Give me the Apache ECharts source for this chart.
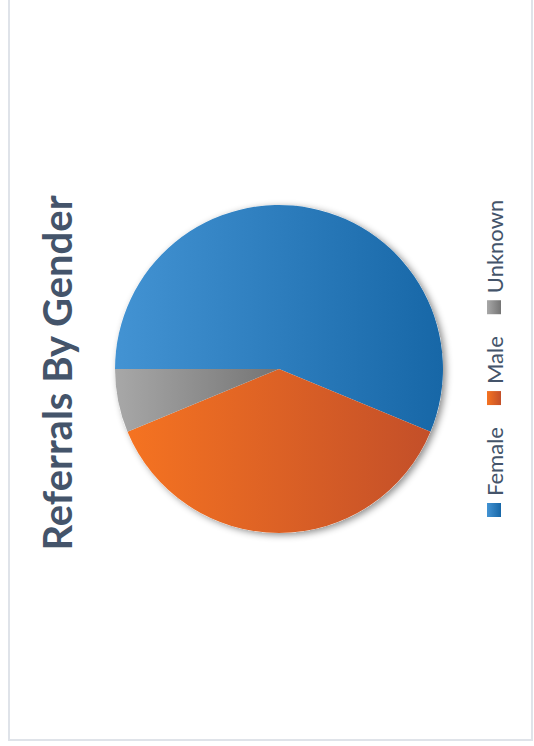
<!DOCTYPE html>
<html>
<head>
<meta charset="utf-8">
<title>Referrals By Gender</title>
<script src="https://cdn.jsdelivr.net/npm/echarts@6/dist/echarts.min.js"></script>
<style>
  html, body { margin: 0; padding: 0; width: 534px; height: 746px; overflow: hidden; background: #ffffff; }
  /* The chart is laid out landscape and turned a quarter turn counter-clockwise */
  #chart {
    position: absolute;
    width: 746px;
    height: 534px;
    left: -106px;
    top: 106px;
    transform: rotate(-90deg);
    transform-origin: 50% 50%;
  }
</style>
</head>
<body>
<div id="chart"></div>
<script>
// Referral counts by gender
const categories = ['Female', 'Male', 'Unknown'];
const referrals = [9, 6, 1];
const chartTitle = 'Referrals By Gender';

// Light-to-dark shading for each slice
const sliceShades = [
  ['#4393d3', '#1767a7'],
  ['#f57321', '#c34f29'],
  ['#a8a8a8', '#747474']
];

function shade(pair) {
  return new echarts.graphic.LinearGradient(0, 0, 0, 1, [
    { offset: 0, color: pair[0] },
    { offset: 1, color: pair[1] }
  ]);
}

const chart = echarts.init(document.getElementById('chart'), null, { renderer: 'svg' });

const pieCenter = [377, 279];
const pieRadius = 164;

chart.setOption({
  animation: false,
  backgroundColor: '#ffffff',
  title: {
    text: chartTitle,
    left: 'center',
    top: 32,
    textStyle: {
      fontFamily: 'Lato',
      fontWeight: 'bold',
      fontSize: 40,
      color: '#44546a'
    }
  },
  legend: {
    data: categories,
    orient: 'horizontal',
    left: 224,
    top: 478,
    itemWidth: 14,
    itemHeight: 14,
    itemGap: 22,
    icon: 'rect',
    selectedMode: false,
    textStyle: {
      fontFamily: 'Lato',
      fontSize: 22,
      color: '#44546a',
      padding: [0, 0, 0, 2]
    }
  },
  graphic: [
    {
      type: 'rect',
      silent: true,
      z: -10,
      shape: { x: 6, y: 9, width: 760, height: 523 },
      style: { fill: 'none', stroke: '#dfe3e9', lineWidth: 2 }
    }
  ],
  series: [
    {
      // soft drop shadow under the whole pie
      type: 'pie',
      name: 'shadow',
      silent: true,
      z: 1,
      center: pieCenter,
      radius: pieRadius,
      label: { show: false },
      labelLine: { show: false },
      emphasis: { disabled: true },
      itemStyle: {
        color: '#ffffff',
        shadowBlur: 7,
        shadowColor: 'rgba(0,0,0,0.45)',
        shadowOffsetX: -2,
        shadowOffsetY: 3
      },
      data: [{ name: '_shadow', value: 1 }]
    },
    {
      type: 'pie',
      name: chartTitle,
      z: 2,
      center: pieCenter,
      radius: pieRadius,
      startAngle: 90,
      clockwise: true,
      label: { show: false },
      labelLine: { show: false },
      emphasis: { disabled: true },
      itemStyle: { borderWidth: 0 },
      data: categories.map((name, i) => ({
        name: name,
        value: referrals[i],
        itemStyle: { color: shade(sliceShades[i]) }
      }))
    }
  ]
});
</script>
</body>
</html>
